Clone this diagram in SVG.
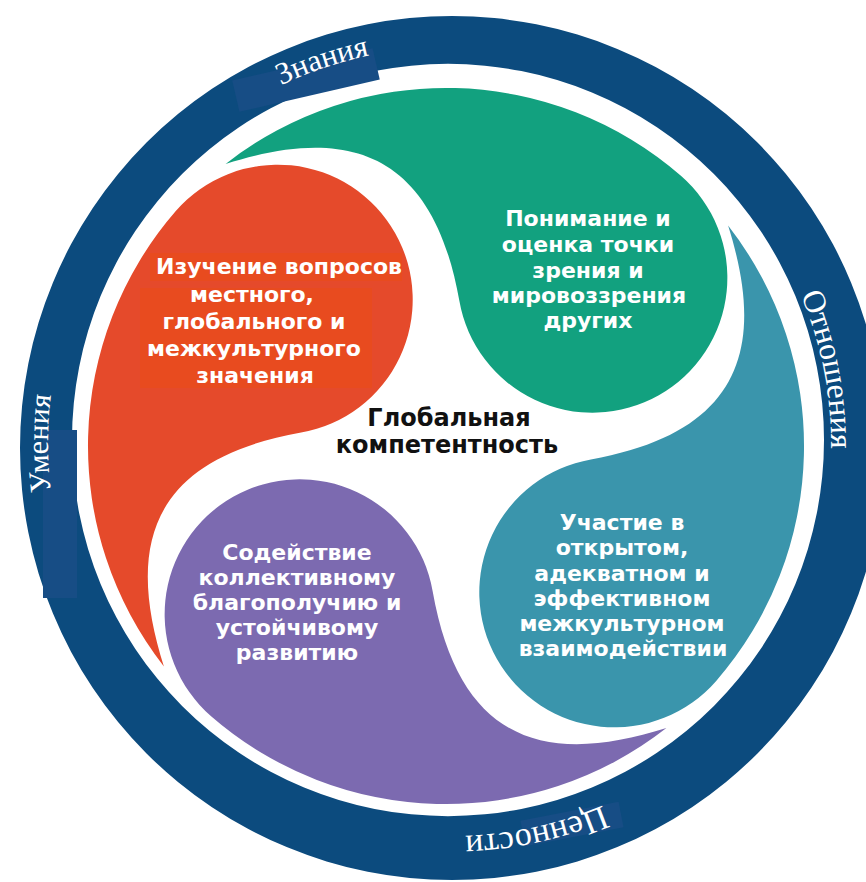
<svg xmlns="http://www.w3.org/2000/svg" width="866" height="882" viewBox="0 0 866 882">
  <defs>
    <style>
      .ring { fill: #0c4b7e; fill-rule: evenodd; }
      .patch { fill: #174d85; }
      .rl { font-family: "Liberation Serif", "Times New Roman", serif; fill: #ffffff; }
      .bt { font-family: "DejaVu Sans", "Liberation Sans", Arial, sans-serif; font-weight: bold; font-size: 22px; fill: #ffffff; text-anchor: middle; }
      .ct { font-family: "DejaVu Sans", "Liberation Sans", Arial, sans-serif; font-weight: bold; font-size: 24px; fill: #111111; text-anchor: middle; }
    </style>
    <path id="blob" d="M -270.2 -234.9 A 358 358 0 0 0 -282.1 220.4 C -318.1 106.4 -302.5 14.4 -144.9 -13.4 A 135 135 0 1 0 -270.2 -234.9 Z"/>
    <path id="arcZ" d="M 112.2 237.2 A 397 397 0 0 1 595.9 74.4"/>
    <path id="arcO" d="M 689.1 147.9 A 380 380 0 0 1 784.0 627.1"/>
    <path id="arcC" d="M 761.6 683.2 A 392 392 0 0 1 269.4 791.4"/>
    <path id="arcU" d="M 141.8 702.5 A 403 403 0 0 1 142.7 184.4"/>
  </defs>
  <rect width="866" height="882" fill="#ffffff"/>

  <g id="ring">
    <path class="ring" d="M 20 448 a 432 432 0 1 0 864 0 a 432 432 0 1 0 -864 0 Z M 72 440 a 376 376 0 1 0 752 0 a 376 376 0 1 0 -752 0 Z"/>
    <rect class="patch" x="-72" y="-16" width="144" height="32" transform="translate(306,80) rotate(-13)"/>
    <rect class="patch" x="43" y="430" width="34" height="168"/>
    <rect class="patch" x="-50" y="-13" width="100" height="26" transform="translate(572,824) rotate(-11)"/>
    <text class="rl" font-size="31"><textPath href="#arcZ" startOffset="50%" text-anchor="middle">Знания</textPath></text>
    <text class="rl" font-size="32"><textPath href="#arcO" startOffset="50%" text-anchor="middle">Отношения</textPath></text>
    <text class="rl" font-size="34"><textPath href="#arcC" startOffset="50%" text-anchor="middle">Ценности</textPath></text>
    <text class="rl" font-size="30"><textPath href="#arcU" startOffset="50%" text-anchor="middle">Умения</textPath></text>
  </g>

  <g id="node-local-global">
    <use href="#blob" fill="#e54a2b" transform="translate(446,446)"/>
    <rect x="150" y="253" width="252" height="28" fill="#e84b1f"/>
    <rect x="140" y="288" width="232" height="100" fill="#e84b1f"/>
    <text class="bt" x="279" y="274">Изучение вопросов</text>
    <text class="bt" x="252" y="302">местного,</text>
    <text class="bt" x="254" y="329">глобального и</text>
    <text class="bt" x="254" y="356">межкультурного</text>
    <text class="bt" x="255" y="383">значения</text>
  </g>

  <g id="node-perspectives">
    <use href="#blob" fill="#12a17f" transform="translate(446,446) rotate(90)"/>
    <text class="bt" x="588" y="226">Понимание и</text>
    <text class="bt" x="588" y="252">оценка точки</text>
    <text class="bt" x="588" y="278">зрения и</text>
    <text class="bt" x="589" y="303">мировоззрения</text>
    <text class="bt" x="588" y="328">других</text>
  </g>

  <g id="node-interaction">
    <use href="#blob" fill="#3a95ac" transform="translate(446,446) rotate(180)"/>
    <text class="bt" x="622" y="530">Участие в</text>
    <text class="bt" x="622" y="555">открытом,</text>
    <text class="bt" x="622" y="581">адекватном и</text>
    <text class="bt" x="622" y="606">эффективном</text>
    <text class="bt" x="622" y="631">межкультурном</text>
    <text class="bt" x="623" y="656">взаимодействии</text>
  </g>

  <g id="node-wellbeing">
    <use href="#blob" fill="#7c6ab0" transform="translate(446,446) rotate(270)"/>
    <text class="bt" x="297" y="560">Содействие</text>
    <text class="bt" x="297" y="585">коллективному</text>
    <text class="bt" x="297" y="610">благополучию и</text>
    <text class="bt" x="297" y="635">устойчивому</text>
    <text class="bt" x="297" y="660">развитию</text>
  </g>

  <g id="node-center">
    <text class="ct" x="449" y="426">Глобальная</text>
    <text class="ct" x="447" y="453">компетентность</text>
  </g>
</svg>
